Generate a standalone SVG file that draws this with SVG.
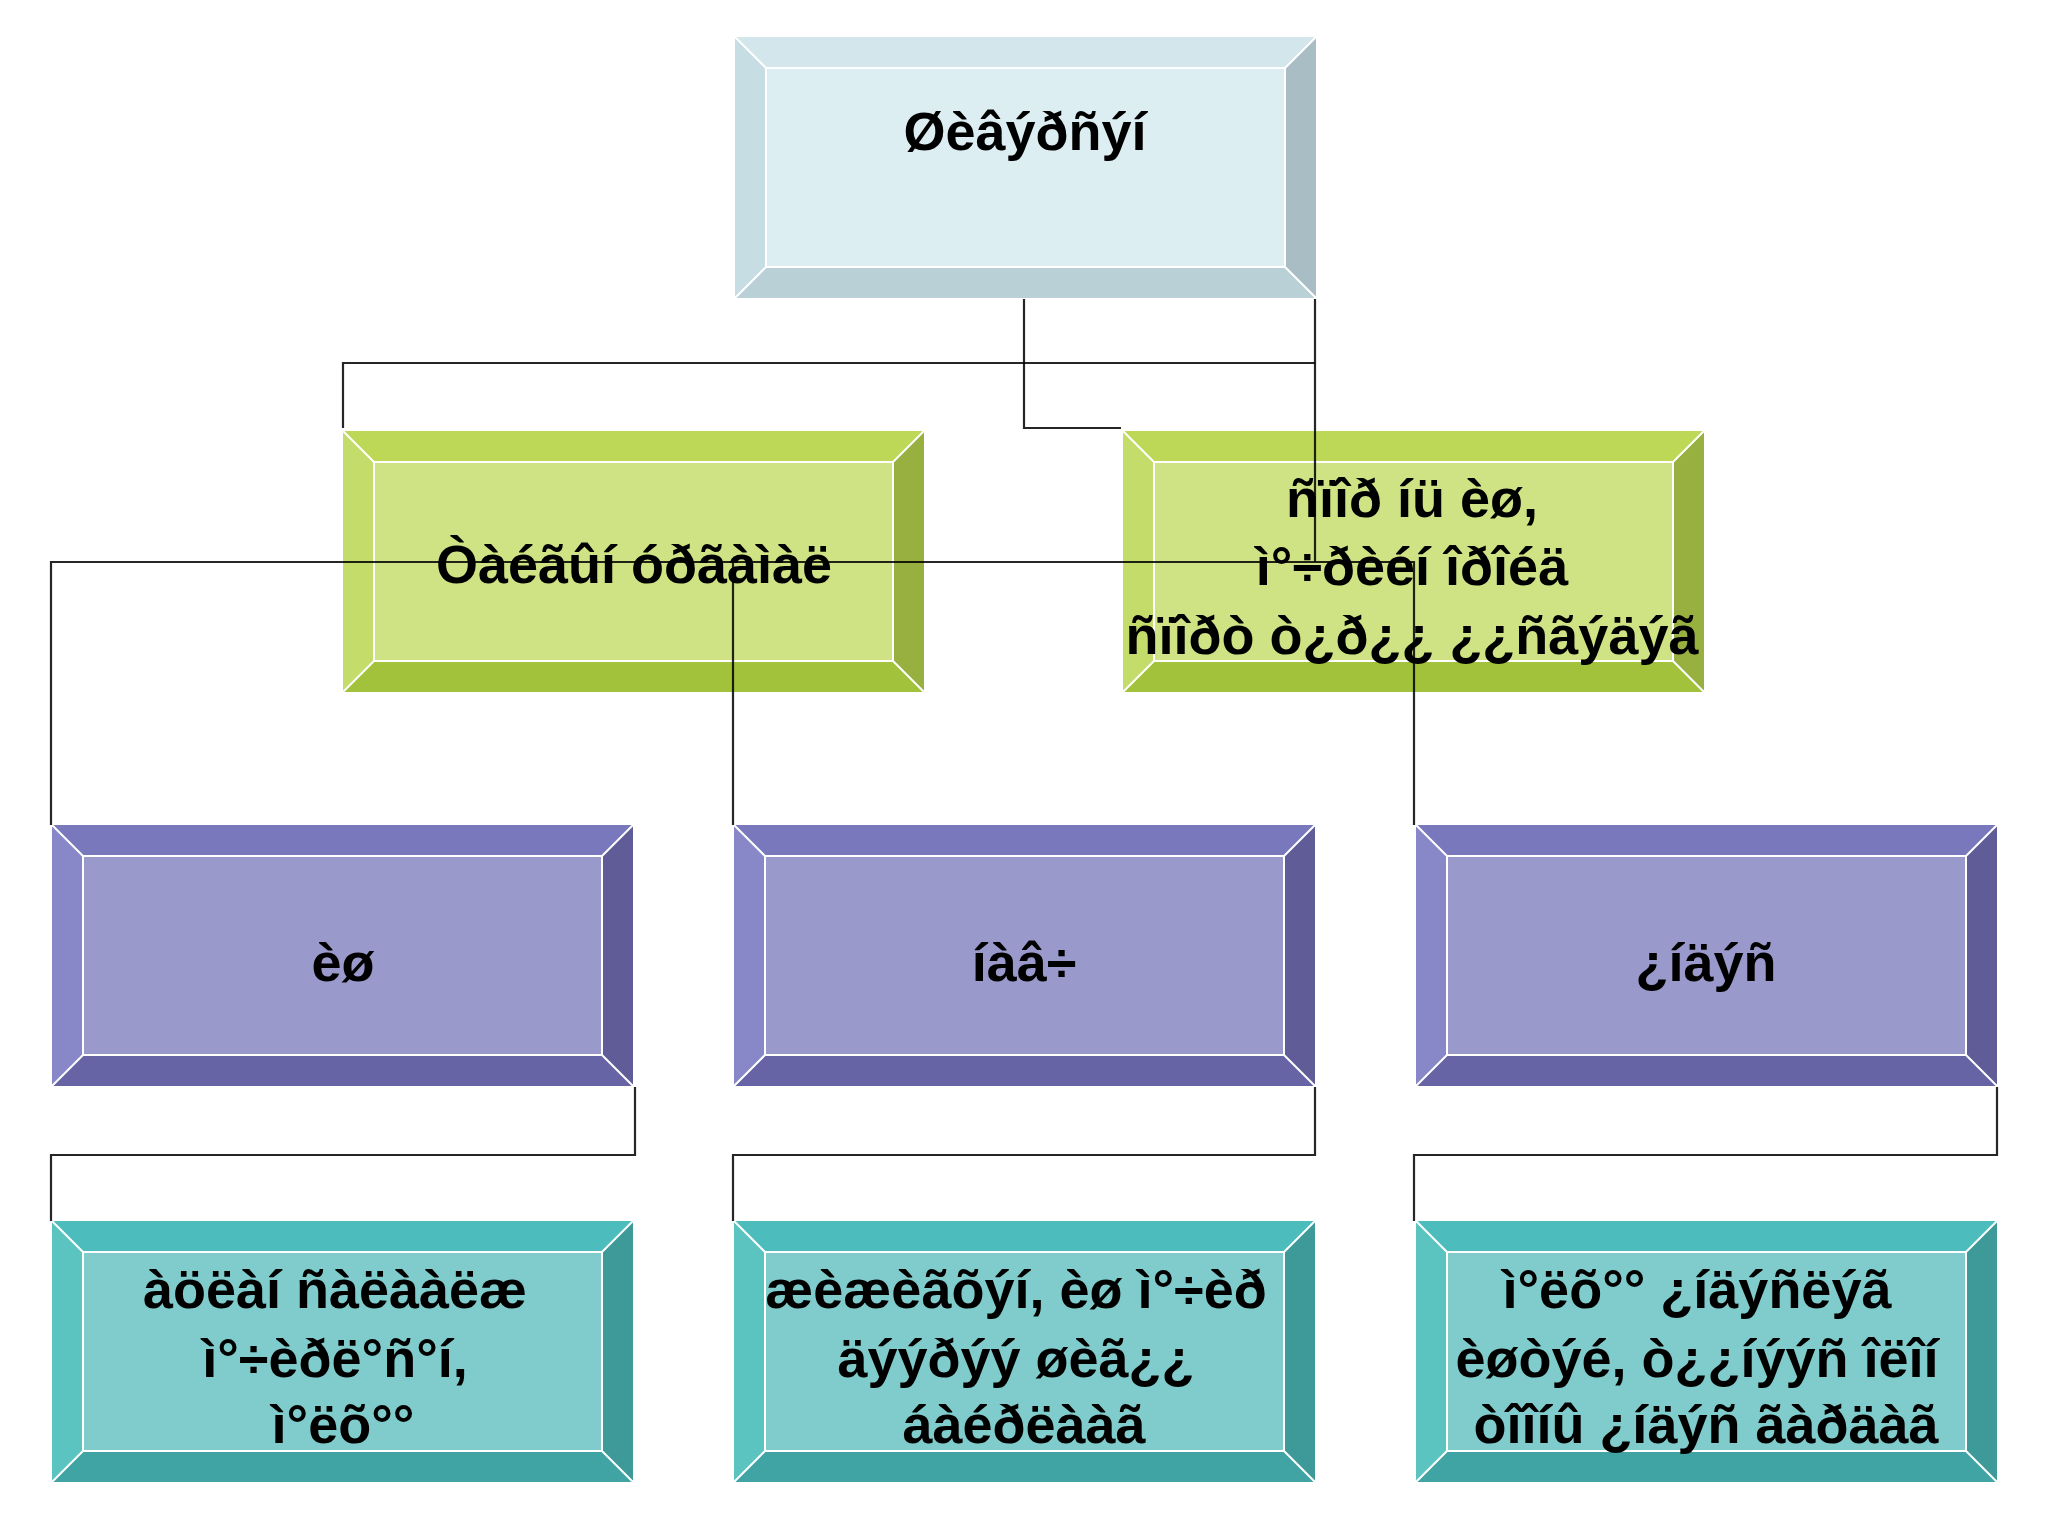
<svg xmlns="http://www.w3.org/2000/svg" width="2048" height="1536" viewBox="0 0 2048 1536">
<style>
text{font-family:"Liberation Sans",Arial,sans-serif;font-weight:bold;font-size:54px;fill:#000;text-anchor:middle}
.e{fill:none;stroke:#fff;stroke-width:2}
.c{fill:none;stroke:#000;stroke-width:2.2;stroke-opacity:.85}
</style>
<defs>
<g id="ed"><rect class="e" x="31" y="31" width="519" height="199"/><path class="e" d="M0,0L31,31M581,0L550,31M0,261L31,230M581,261L550,230"/></g>
<g id="ba">
<rect fill="#DDEEF2" width="581" height="261"/>
<polygon fill="#D2E6EC" points="0,0 581,0 550,31 31,31"/>
<polygon fill="#C6DDE3" points="0,0 31,31 31,230 0,261"/>
<polygon fill="#A8BEC4" points="581,0 581,261 550,230 550,31"/>
<polygon fill="#B9D0D6" points="0,261 31,230 550,230 581,261"/>
<use href="#ed"/></g>
<g id="bg">
<rect fill="#CFE384" width="581" height="261"/>
<polygon fill="#BCD856" points="0,0 581,0 550,31 31,31"/>
<polygon fill="#C4DC6A" points="0,0 31,31 31,230 0,261"/>
<polygon fill="#98B040" points="581,0 581,261 550,230 550,31"/>
<polygon fill="#A2C23C" points="0,261 31,230 550,230 581,261"/>
<use href="#ed"/></g>
<g id="bp">
<rect fill="#9999CC" width="581" height="261"/>
<polygon fill="#7A78BC" points="0,0 581,0 550,31 31,31"/>
<polygon fill="#8888C8" points="0,0 31,31 31,230 0,261"/>
<polygon fill="#605C98" points="581,0 581,261 550,230 550,31"/>
<polygon fill="#6664A4" points="0,261 31,230 550,230 581,261"/>
<use href="#ed"/></g>
<g id="bq">
<rect fill="#80CCCC" width="581" height="261"/>
<polygon fill="#4CBCBC" points="0,0 581,0 550,31 31,31"/>
<polygon fill="#5CC4C0" points="0,0 31,31 31,230 0,261"/>
<polygon fill="#3E9A98" points="581,0 581,261 550,230 550,31"/>
<polygon fill="#40A4A4" points="0,261 31,230 550,230 581,261"/>
<use href="#ed"/></g>
</defs>
<g id="n0"><use href="#ba" x="735" y="37"/><text x="1025" y="150">Øèâýðñýí</text></g>
<g id="n1"><use href="#bg" x="343" y="431"/><text x="634" y="583">Òàéãûí óðãàìàë</text></g>
<g id="n2"><use href="#bg" x="1123" y="431"/><text x="1412" y="517">ñïîð íü èø,</text><text x="1412" y="585">ì°÷ðèéí îðîéä</text><text x="1412" y="654">ñïîðò ò¿ð¿¿ ¿¿ñãýäýã</text></g>
<g id="n3"><use href="#bp" x="52" y="825"/><text x="343" y="981">èø</text></g>
<g id="n4"><use href="#bp" x="734" y="825"/><text x="1024" y="981">íàâ÷</text></g>
<g id="n5"><use href="#bp" x="1416" y="825"/><text x="1706" y="981">¿íäýñ</text></g>
<g id="n6"><use href="#bq" x="52" y="1221"/><text x="335" y="1308">àöëàí ñàëààëæ</text><text x="335" y="1377">ì°÷èðë°ñ°í,</text><text x="343" y="1443">ì°ëõ°°</text></g>
<g id="n7"><use href="#bq" x="734" y="1221"/><text x="1016" y="1308">æèæèãõýí, èø ì°÷èð</text><text x="1016" y="1377">äýýðýý øèã¿¿</text><text x="1024" y="1443">áàéðëààã</text></g>
<g id="n8"><use href="#bq" x="1416" y="1221"/><text x="1697" y="1308">ì°ëõ°° ¿íäýñëýã</text><text x="1697" y="1377">èøòýé, ò¿¿íýýñ îëîí</text><text x="1706" y="1443">òîîíû ¿íäýñ ãàðäàã</text></g>
<g id="edges">
<path class="c" d="M1024,299V428H1121"/>
<path class="c" d="M1315,299V562"/>
<path class="c" d="M1315,363H343V428"/>
<path class="c" d="M51,825V562H1414V825"/>
<path class="c" d="M733,562V825"/>
<path class="c" d="M635,1087V1155H51V1221"/>
<path class="c" d="M1315,1087V1155H733V1221"/>
<path class="c" d="M1997,1087V1155H1414V1221"/>
</g>
</svg>
